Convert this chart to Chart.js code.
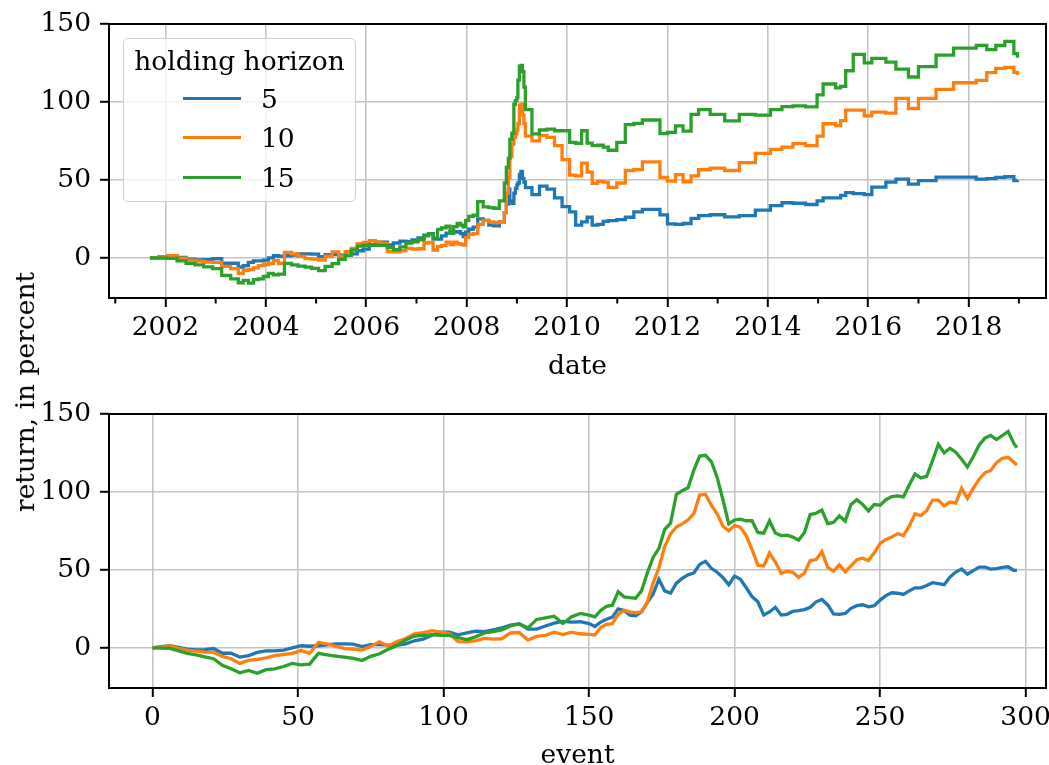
<!DOCTYPE html>
<html>
<head>
<meta charset="utf-8">
<script src="https://cdn.jsdelivr.net/npm/chart.js@4.4.0/dist/chart.umd.min.js"></script>
<style>
html,body{margin:0;padding:0;background:#fff;overflow:hidden;}
#wrap{position:relative;width:1049px;height:765px;font-family:"DejaVu Serif",serif;color:#000;}
canvas{position:absolute;left:0;}
#c1{top:0;}
#c2{top:390px;}
#ylab{position:absolute;left:25px;top:392px;transform:translate(-50%,-50%) rotate(-90deg);font-size:26.5px;white-space:nowrap;line-height:30px;}
#legend{position:absolute;left:123px;top:38px;width:233px;height:164px;box-sizing:border-box;border:1.3px solid #cfcfcf;border-radius:5px;background:rgba(255,255,255,0.8);font-size:26.5px;}
#legend .ttl{position:absolute;left:0;top:7px;width:100%;text-align:center;line-height:30px;}
#legend .row{position:absolute;left:0;width:100%;height:30px;}
#legend .hd{position:absolute;left:59px;top:13px;width:58px;height:3.4px;}
#legend .lb{position:absolute;left:137px;top:0;line-height:30px;}
</style>
</head>
<body>
<div id="wrap">
  <canvas id="c1" width="1049" height="383"></canvas>
  <canvas id="c2" width="1049" height="382"></canvas>
  <div id="ylab">return, in percent</div>
  <div id="legend"></div>
</div>
<script>
// event index of each sample and the date (decimal year) of that event
const events=[0,3,6,9,12,15,18,21,24,27,30,33,36,39,42,45,48,51,54,57,60,63,66,69,72,75,78,81,84,87,90,93,96,99,102,105,108,111,114,117,120,123,126,129,132,135,138,141,144,147,
  150,152,154,156,158,160,162,164,166,168,170,172,174,176,178,180,182,184,186,188,190,192,194,196,198,200,202,204,206,208,
  210,212,214,216,218,220,222,224,226,228,230,232,234,236,238,240,242,244,246,248,250,252,254,256,258,260,262,264,266,268,
  270,272,274,276,278,280,282,284,286,288,290,292,294,296,297];
const eventDates=[2001.69,2001.87,2002.05,2002.23,2002.41,2002.59,2002.76,2002.94,2003.12,2003.30,2003.45,2003.55,2003.65,2003.75,2003.85,2003.95,2004.05,2004.15,2004.25,2004.37,2004.51,2004.64,2004.78,2004.91,2005.05,2005.18,2005.32,2005.45,2005.58,2005.70,2005.82,2005.94,2006.06,2006.18,2006.30,2006.42,2006.54,2006.67,2006.79,2006.91,2007.03,2007.15,2007.24,2007.33,2007.42,2007.50,2007.59,2007.67,2007.74,2007.81,
  2007.88,2007.93,2007.98,2008.04,2008.13,2008.22,2008.33,2008.44,2008.54,2008.65,2008.75,2008.79,2008.83,2008.86,2008.90,2008.94,2008.97,2009.00,2009.02,2009.05,2009.08,2009.11,2009.14,2009.17,2009.30,2009.45,2009.60,2009.75,2009.90,2010.05,
  2010.17,2010.29,2010.40,2010.50,2010.61,2010.72,2010.82,2010.99,2011.16,2011.33,2011.50,2011.85,2012.00,2012.16,2012.31,2012.47,2012.62,2012.85,2013.14,2013.43,2013.75,2014.05,2014.28,2014.50,2014.75,2014.98,2015.10,2015.35,2015.45,2015.55,
  2015.70,2015.92,2016.07,2016.35,2016.55,2016.80,2017.00,2017.35,2017.70,2018.15,2018.36,2018.54,2018.72,2018.90,2018.97];

// cumulative return (percent) per holding horizon
const ret5=[0,0.8,1.4,0.3,-0.9,-1.3,-1.2,-0.5,-3.5,-3.5,-6,-5,-3,-2,-2,-1.5,0,1.3,1,1.3,1.8,2.5,2.5,2.3,0.8,2,2,1.7,1.5,2.5,4.5,5.5,8,10,10,8.3,9.5,10.7,10.3,11.5,12.8,14.5,15.5,12,12,14,15.8,17,16.5,16.7,
  15.5,13.6,16.5,18.3,19.7,25,24,21,20.5,23,29,34.5,44,36.5,35,41.5,44.5,46.8,48,53.5,55.5,51,48.5,45,40.5,46,44,38.5,32.8,29.5,
  21,23,26,21,21.5,23.3,23.8,24.5,26,29.5,31,27.5,21.8,21.5,22,25.3,27,27.6,26.3,27,30.6,33.5,35.3,35,34.2,36.5,38.5,38.5,40,41.8,
  41.2,40.5,45.4,48.6,50.5,47.2,49.5,51.8,51.8,50.5,50.8,51.6,52,49.6,49.8];
const ret10=[0,0.5,1.3,-0.3,-1.5,-2.2,-2.8,-3,-5.5,-7,-10,-8,-7.5,-6.5,-5,-4.3,-3.6,-1.8,-3.5,3.4,2.5,1,-0.5,-0.8,-1.5,1,3.8,1,4,6,9,9.8,11,10,9.2,4,3.8,4.5,6,5.6,5.8,9.5,9.8,5,7.3,8,10,8.5,10,9,
  8.6,8.2,13,15,15.5,21.5,24,23,22.5,23,29,41.5,51.5,65,73,77.5,79.5,82,86,98,98.5,91.5,86,78,75,78.5,77.3,72,63,53,
  52.5,60.8,55,47.8,49,48.5,45.2,48,56,56.6,61.6,51.6,49.2,53.3,48.8,52.5,56.5,57.5,56,61,67,69.5,71,73.2,72,78,86,84.8,88,94.8,
  94.8,91,93.5,92.8,102.3,95.8,102.3,108,112.3,113.8,118.8,121.5,122.2,119,117.3];
const ret15=[0,-0.2,-0.4,-2,-3.6,-4.6,-5.8,-7,-11.3,-13.5,-16,-14.5,-16.3,-14,-13.5,-12,-10,-11,-10.5,-3.6,-4.5,-5.3,-6,-6.8,-8.2,-5.5,-3.8,-1,1.5,5,7.5,8,8.5,8,8,6.5,5.3,7,9.5,10.3,11.5,14,15.3,12.8,18.2,19.2,20.3,15.6,20,22,
  21,19.8,24,26.6,27.3,36,32.7,32.2,31.8,36.5,48,58,63.8,76,80,98.5,100.8,102.7,114,123,123.5,119.5,109.5,95,79.5,82,82.5,81.5,81.5,74,
  73.5,81.5,73.6,72,72.2,71,69,74,85.5,86.3,88.4,79.6,80.5,84.6,81.3,92,95,92,87.8,92,91.5,95,97,97.5,96.8,104.5,111.5,109,110,120,
  130.5,125,128,125.5,121,116,122.6,130,134.5,136.3,133.6,136.2,138.8,131,128.4];

const horizons=['5','10','15'];
const colors=['#1f77b4','#ff7f0e','#2ca02c'];
const yTicks=[0,50,100,150];
const yearTicks=[2001,2002,2003,2004,2005,2006,2007,2008,2009,2010,2011,2012,2013,2014,2015,2016,2017,2018,2019];
const eventTicks=[0,50,100,150,200,250,300];

Chart.defaults.font.family='"DejaVu Serif", serif';
Chart.defaults.font.size=26.5;
Chart.defaults.color='#000';

const series=[ret5,ret10,ret15];
const gridCol='#c4c4c4';

// spines on all four sides, plus short minor ticks on odd years
const frame={
  id:'frame',
  afterDraw(c){
    const a=c.chartArea,ctx=c.ctx;
    ctx.save();
    ctx.strokeStyle='#000';
    ctx.lineWidth=2;
    const minor=c.options.plugins.frame&&c.options.plugins.frame.minor;
    if(minor){
      const s=c.scales.x;
      minor.forEach(v=>{
        if(v%2===0)return;
        const p=s.getPixelForValue(v);
        ctx.beginPath();ctx.moveTo(p,a.bottom);ctx.lineTo(p,a.bottom+5.5);ctx.stroke();
      });
    }
    ctx.strokeRect(a.left,a.top,a.right-a.left,a.bottom-a.top);
    ctx.restore();
  }
};

function fixX(h){return s=>{s.height=h;s.paddingLeft=0;s.paddingRight=0;};}
function fixY(s){s.width=109;s.paddingTop=0;s.paddingBottom=0;}

function makeChart(id,xs,xmin,xmax,xticks,xTitle,xh,stepped,isYear){
  const datasets=series.map((vals,k)=>({
    label:horizons[k],
    data:xs.map((x,i)=>({x:x,y:vals[i]})),
    borderColor:colors[k],
    borderWidth:3.3,
    pointRadius:0,
    tension:0,
    stepped:stepped,
    order:3-k
  }));
  return new Chart(document.getElementById(id),{
    type:'line',
    data:{datasets:datasets},
    plugins:[frame],
    options:{
      responsive:false,
      animation:false,
      layout:{padding:{top:24,right:3,left:0,bottom:0}},
      plugins:{legend:{display:false},tooltip:{enabled:false},frame:{minor:isYear?xticks:null}},
      scales:{
        x:{
          type:'linear',min:xmin,max:xmax,
          afterBuildTicks:s=>{s.ticks=xticks.map(v=>({value:v}));},
          afterFit:fixX(xh),
          ticks:{autoSkip:false,maxRotation:0,padding:5,
            callback:v=>isYear?(v%2===0?String(v):''):String(v)},
          grid:{lineWidth:1.6,tickLength:9,tickWidth:2,
            color:c=>(!isYear||(c.tick&&c.tick.value%2===0))?gridCol:'rgba(0,0,0,0)',
            tickColor:c=>(!isYear||(c.tick&&c.tick.value%2===0))?'#000':'rgba(0,0,0,0)'},
          border:{display:false},
          title:{display:true,text:xTitle,padding:{top:0,bottom:0}}
        },
        y:{
          min:-25.8,max:150,
          afterBuildTicks:s=>{s.ticks=yTicks.map(v=>({value:v}));},
          afterFit:fixY,
          ticks:{padding:9},
          grid:{lineWidth:1.6,tickLength:9,tickWidth:2,color:gridCol,tickColor:'#000'},
          border:{display:false}
        }
      }
    }
  });
}

makeChart('c1',eventDates,2000.875,2019.54,yearTicks,'date',85,'before',true);
makeChart('c2',events,-14.95,307,eventTicks,'event',84,false,false);

// legend
const lg=document.getElementById('legend');
let html='<div class="ttl">holding horizon</div>';
const rowY=[45,84,124];
horizons.forEach((h,k)=>{
  html+='<div class="row" style="top:'+rowY[k]+'px"><div class="hd" style="background:'+colors[k]+'"></div><span class="lb">'+h+'</span></div>';
});
lg.innerHTML=html;
</script>
</body>
</html>
